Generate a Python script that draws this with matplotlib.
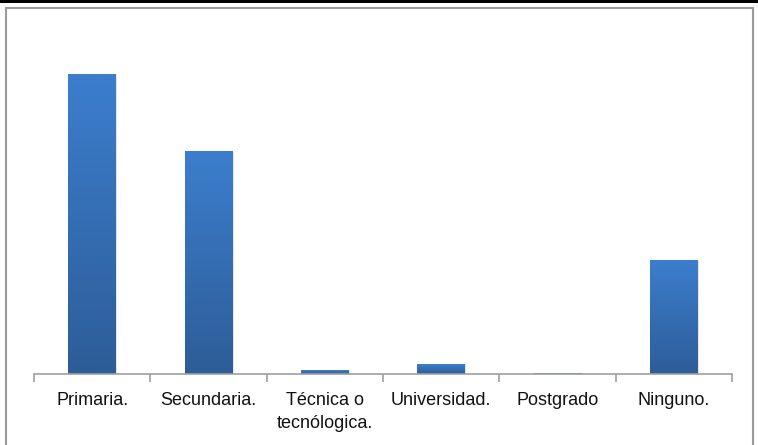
import numpy as np
import matplotlib.pyplot as plt
from matplotlib.patches import Rectangle
from matplotlib.colors import LinearSegmentedColormap

plt.rcParams['font.family'] = ['Liberation Sans', 'DejaVu Sans']

categorias = ['Primaria.', 'Secundaria.', 'Técnica o\ntecnólogica.', 'Universidad.', 'Postgrado', 'Ninguno.']
valores = [46.0, 34.1, 0.6, 1.5, 0.15, 17.4]

fig = plt.figure(figsize=(7.58, 4.45), dpi=100)
W, H = 758, 445

# marco exterior
fig.patches.append(Rectangle((0, 1 - 3 / H), 1, 3 / H, transform=fig.transFigure,
                             facecolor='black', edgecolor='none'))
fig.patches.append(Rectangle((5.5 / W, -0.1), 747 / W, 1.1 - 8.5 / H, transform=fig.transFigure,
                             facecolor='none', edgecolor='#9a9a9a', lw=1.5))

ax = fig.add_axes([34 / W, (H - 374) / H, (732 - 34) / W, 344 / H])
n = len(categorias)
x = np.arange(n)
ancho = 0.41

cmap = LinearSegmentedColormap.from_list('azul', ['#2d5d98', '#3c7ecd'])
grad = np.linspace(0, 1, 256).reshape(-1, 1)
for xi, v in zip(x, valores):
    # sombra
    ax.bar(xi + 0.012, v, ancho, color='#000000', alpha=0.10, zorder=1)
    ax.imshow(grad, cmap=cmap, origin='lower', aspect='auto', zorder=2,
              extent=(xi - ancho / 2, xi + ancho / 2, 0, v))

ax.set_xlim(-0.5, n - 0.5)
ax.set_ylim(0, 46.0 * 344 / 300)
ax.set_yticks([])
ax.set_xticks(np.arange(-0.5, n, 1.0))
ax.set_xticklabels([])
ax.set_xticks(x, minor=True)
ax.set_xticklabels(categorias, minor=True, fontsize=13, color='#111111', linespacing=1.45)
ax.tick_params(axis='x', which='minor', length=0, pad=13)
ax.tick_params(axis='x', which='major', length=6, color='#a0a0a0', width=1.2)
for s in ['top', 'right', 'left']:
    ax.spines[s].set_visible(False)
ax.spines['bottom'].set_color('#a0a0a0')
ax.spines['bottom'].set_linewidth(1.2)

fig.savefig('out.png', dpi=100)
